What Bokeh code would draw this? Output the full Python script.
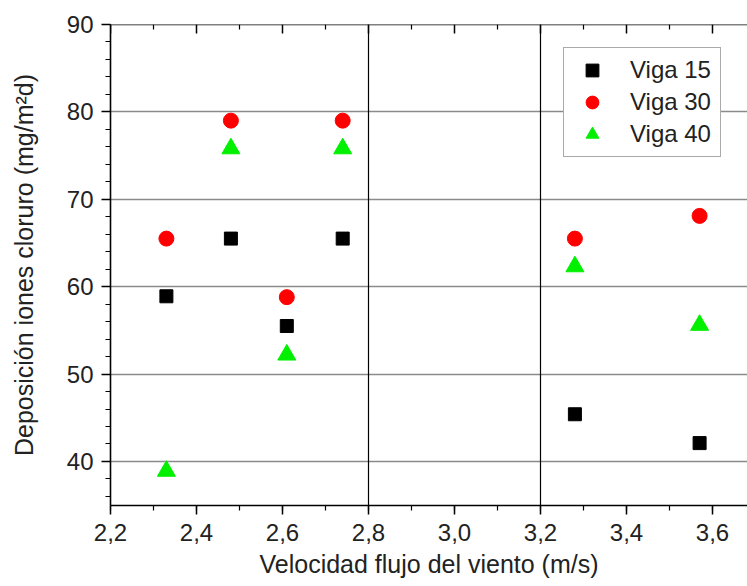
from bokeh.plotting import figure
from bokeh.models import (Range1d, SingleIntervalTicker, Span,
                          CustomJSTickFormatter, Legend)
from bokeh.embed import file_html
from bokeh.resources import INLINE

# data
x_vel = [2.33, 2.48, 2.61, 2.74, 3.28, 3.57]
viga15 = [58.9, 65.5, 55.5, 65.5, 45.4, 42.1]
viga30 = [65.5, 79.0, 58.8, 79.0, 65.5, 68.1]
viga40 = [38.9, 75.8, 52.2, 75.8, 62.3, 55.6]
separators = [2.8, 3.2]
top_major_ticks = [2.2, 2.4, 2.6, 2.8, 3.0, 3.2, 3.4, 3.6]
top_minor_ticks = [2.3, 2.5, 2.7, 2.9, 3.1, 3.3, 3.5]

FONT = "Liberation Sans"
Y_BOTTOM, Y_TOP = 34.96, 90
FRAME_H = 586 - 24 - 81
PX = (Y_TOP - Y_BOTTOM) / FRAME_H   # data units per pixel (for tick length)

p = figure(width=747, height=586, output_backend="svg", toolbar_location=None,
           x_range=Range1d(2.2, 3.6814), y_range=Range1d(Y_BOTTOM, Y_TOP),
           min_border_left=110, min_border_right=0, min_border_top=24,
           min_border_bottom=81, outline_line_color=None,
           background_fill_color="white", border_fill_color="white")

fmt = CustomJSTickFormatter(code="return tick.toFixed(1).replace('.', ',');")

xa = p.xaxis[0]
xa.ticker = SingleIntervalTicker(interval=0.2, num_minor_ticks=2)
xa.formatter = fmt
ya = p.yaxis[0]
ya.ticker = SingleIntervalTicker(interval=10, num_minor_ticks=5)

for ax in (xa, ya):
    ax.axis_line_color = "black"
    ax.axis_line_width = 1.6
    ax.major_tick_line_color = "black"
    ax.minor_tick_line_color = "black"
    ax.major_tick_line_width = 1.5
    ax.minor_tick_line_width = 1.2
    ax.major_tick_out = 9
    ax.major_tick_in = 0
    ax.minor_tick_out = 5
    ax.minor_tick_in = 0
    ax.major_label_text_font = FONT
    ax.major_label_text_font_size = "24px"
    ax.major_label_text_color = "#222222"
    ax.axis_label_text_font = FONT
    ax.axis_label_text_font_size = "25px"
    ax.axis_label_text_font_style = "normal"
    ax.axis_label_text_color = "#222222"

xa.axis_label = "Velocidad flujo del viento (m/s)"
ya.axis_label = "Deposición iones cloruro (mg/m²d)"
xa.major_label_standoff = 9
xa.axis_label_standoff = 6
ya.major_label_standoff = 8
ya.axis_label_standoff = 26

p.xgrid.grid_line_color = None
p.ygrid.grid_line_color = "#8a8a8a"
p.ygrid.grid_line_width = 1.3

# top frame line
p.add_layout(Span(location=Y_TOP, dimension="width", line_color="black",
                  line_width=1.6))

# inward ticks on the top edge
p.segment(x0=top_major_ticks, y0=[Y_TOP] * len(top_major_ticks),
          x1=top_major_ticks, y1=[Y_TOP - 9 * PX] * len(top_major_ticks),
          line_color="black", line_width=1.5)
p.segment(x0=top_minor_ticks, y0=[Y_TOP] * len(top_minor_ticks),
          x1=top_minor_ticks, y1=[Y_TOP - 5 * PX] * len(top_minor_ticks),
          line_color="black", line_width=1.2)

for s in separators:
    p.add_layout(Span(location=s, dimension="height", line_color="black",
                      line_width=1.2))

r1 = p.scatter(x_vel, viga15, marker="square", size=13, color="black")
r2 = p.scatter(x_vel, viga30, marker="circle", size=15, color="#ff0000")
r3 = p.scatter(x_vel, viga40, marker="triangle", size=18, color="#00f000")

legend = Legend(items=[("Viga 15", [r1]), ("Viga 30", [r2]), ("Viga 40", [r3])],
                location=(453, 348), orientation="vertical",
                label_text_font=FONT, label_text_font_size="24px",
                label_text_color="#222222", label_width=84,
                glyph_width=44, glyph_height=32, spacing=-2, padding=6,
                label_standoff=16, margin=0,
                border_line_color="#555555", border_line_width=1.5,
                background_fill_color="white", background_fill_alpha=1)
p.add_layout(legend, "center")

open("out.html", "w").write(file_html(p, INLINE))
